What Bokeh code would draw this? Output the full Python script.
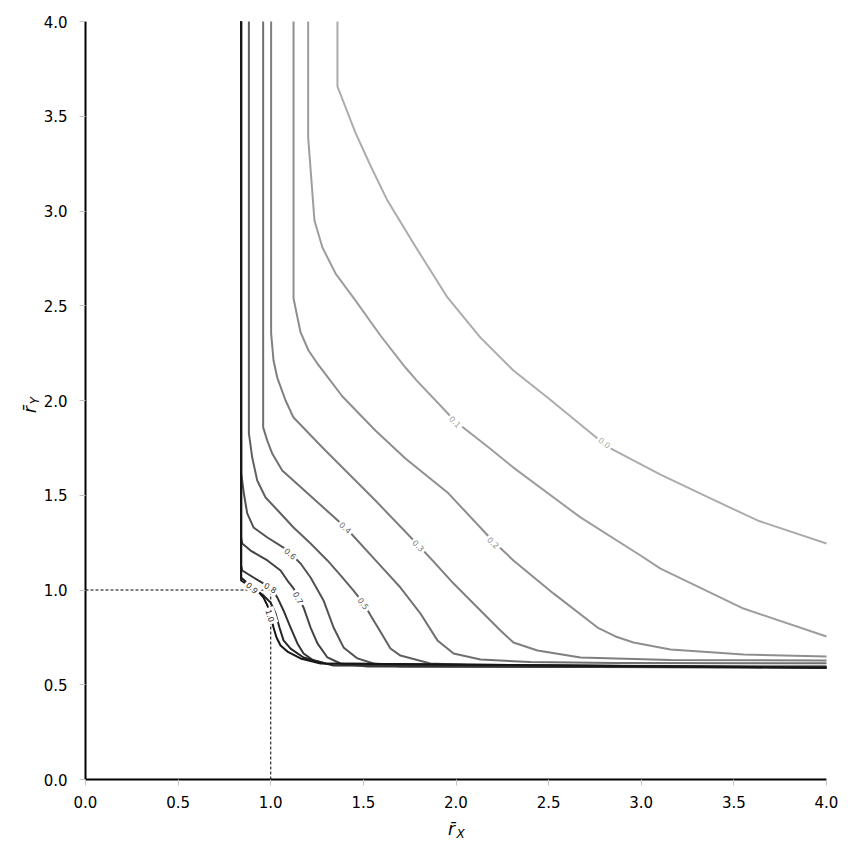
import math
from bokeh.plotting import figure
from bokeh.models import ColumnDataSource, Range1d, FixedTicker, PrintfTickFormatter, LinearAxis
from bokeh.core.properties import value
from bokeh.embed import file_html
from bokeh.resources import INLINE

# ---------------- data ----------------
levels = [0.0, 0.1, 0.2, 0.3, 0.4, 0.5, 0.6, 0.7, 0.8, 0.9, 1.0]
level_text = ["0.0", "0.1", "0.2", "0.3", "0.4", "0.5", "0.6", "0.7", "0.8", "0.9", "1.0"]

c00_x = [1.360, 1.360, 1.457, 1.538, 1.630, 1.771, 1.954, 2.132, 2.310, 2.494, 2.764, 2.834, 3.104, 3.374, 3.628, 4.0]
c00_y = [4.0, 3.657, 3.414, 3.240, 3.055, 2.828, 2.544, 2.332, 2.158, 2.016, 1.799, 1.747, 1.609, 1.483, 1.367, 1.245]

c01_x = [1.202, 1.202, 1.236, 1.279, 1.350, 1.457, 1.592, 1.727, 1.787, 1.997, 2.170, 2.310, 2.672, 2.996, 3.104, 3.552, 4.0]
c01_y = [4.0, 3.388, 2.950, 2.807, 2.670, 2.528, 2.343, 2.174, 2.106, 1.889, 1.757, 1.646, 1.383, 1.182, 1.113, 0.902, 0.755]

c02_x = [1.123, 1.123, 1.161, 1.204, 1.252, 1.387, 1.565, 1.727, 1.954, 2.202, 2.310, 2.526, 2.764, 2.861, 2.958, 3.158, 3.552, 4.0]
c02_y = [4.0, 2.538, 2.359, 2.264, 2.195, 2.021, 1.842, 1.694, 1.515, 1.256, 1.156, 0.982, 0.802, 0.755, 0.723, 0.686, 0.660, 0.649]

c03_x = [1.002, 1.002, 1.015, 1.035, 1.080, 1.123, 1.279, 1.565, 1.798, 1.873, 1.987, 2.132, 2.240, 2.310, 2.440, 2.672, 3.158, 4.0]
c03_y = [4.0, 2.354, 2.211, 2.121, 2.000, 1.910, 1.752, 1.472, 1.235, 1.156, 1.034, 0.892, 0.786, 0.723, 0.681, 0.644, 0.630, 0.628]

c04_x = [0.959, 0.959, 0.981, 1.008, 1.062, 1.242, 1.404, 1.592, 1.700, 1.808, 1.900, 1.987, 2.132, 2.402, 2.850, 4.0]
c04_y = [4.0, 1.858, 1.789, 1.720, 1.631, 1.472, 1.330, 1.129, 1.013, 0.876, 0.734, 0.665, 0.633, 0.620, 0.615, 0.613]

c05_x = [0.882, 0.882, 0.900, 0.927, 0.972, 1.053, 1.123, 1.215, 1.306, 1.377, 1.447, 1.501, 1.549, 1.598, 1.646, 1.700, 1.862, 2.132, 4.0]
c05_y = [4.0, 1.826, 1.699, 1.578, 1.488, 1.404, 1.330, 1.245, 1.156, 1.077, 0.997, 0.929, 0.850, 0.770, 0.691, 0.654, 0.612, 0.602, 0.597]

c06_x = [0.840, 0.840, 0.855, 0.873, 0.907, 0.982, 1.069, 1.107, 1.161, 1.215, 1.285, 1.339, 1.393, 1.468, 1.555, 1.700, 4.0]
c06_y = [4.0, 1.620, 1.509, 1.404, 1.330, 1.277, 1.224, 1.193, 1.140, 1.066, 0.945, 0.802, 0.697, 0.639, 0.612, 0.596, 0.592]

c07_x = [0.840, 0.840, 0.846, 0.891, 0.982, 1.053, 1.090, 1.123, 1.150, 1.177, 1.215, 1.252, 1.306, 1.377, 1.522, 4.0]
c07_y = [4.0, 1.277, 1.245, 1.208, 1.156, 1.103, 1.050, 1.008, 0.960, 0.908, 0.802, 0.718, 0.644, 0.612, 0.596, 0.591]

c08_x = [0.840, 0.840, 0.846, 0.907, 0.999, 1.036, 1.069, 1.107, 1.144, 1.177, 1.231, 1.339, 4.0]
c08_y = [4.0, 1.129, 1.103, 1.066, 1.013, 0.960, 0.892, 0.802, 0.718, 0.665, 0.628, 0.602, 0.591]

c09_x = [0.840, 0.840, 0.901, 0.955, 0.999, 1.026, 1.047, 1.069, 1.107, 1.177, 1.296, 4.0]
c09_y = [4.0, 1.066, 1.013, 0.976, 0.934, 0.876, 0.802, 0.734, 0.691, 0.644, 0.612, 0.591]

c10_x = [0.840, 0.840, 0.891, 0.928, 0.961, 0.982, 0.999, 1.015, 1.031, 1.053, 1.090, 1.161, 1.269, 4.0]
c10_y = [4.0, 1.050, 1.018, 0.997, 0.960, 0.918, 0.865, 0.802, 0.749, 0.707, 0.675, 0.639, 0.612, 0.590]

contour_x = [c00_x, c01_x, c02_x, c03_x, c04_x, c05_x, c06_x, c07_x, c08_x, c09_x, c10_x]
contour_y = [c00_y, c01_y, c02_y, c03_y, c04_y, c05_y, c06_y, c07_y, c08_y, c09_y, c10_y]

# inline contour-label positions
label_x = [2.802, 1.997, 2.202, 1.798, 1.404, 1.501, 1.107, 1.150, 0.999, 0.901, 0.999]
label_y = [1.778, 1.889, 1.251, 1.235, 1.330, 0.929, 1.193, 0.960, 1.013, 1.013, 0.865]

# dashed reference point
ref_x = 1.0
ref_y = 1.0

ticks = [0.0, 0.5, 1.0, 1.5, 2.0, 2.5, 3.0, 3.5, 4.0]
axis_lo, axis_hi = 0.0, 4.0
x_title_main, x_title_sub = "r\u0304", "X"
y_title_main, y_title_sub = "r\u0304", "Y"

# ---------------- layout / styling ----------------
CANVAS = 850                       # whole drawing area (page shows it at 0,0)
AX_L, AX_R, AX_T, AX_B = 85, 826, 21, 779   # pixel box of the 0..4 axes
FONT = "DejaVu Sans"

sx = (AX_R - AX_L) / (axis_hi - axis_lo)
sy = (AX_B - AX_T) / (axis_hi - axis_lo)


def to_x(px):
    return axis_lo + (px - AX_L) / sx


def to_y(py):
    return axis_lo + (AX_B - py) / sy


def gray(level):
    v = int(round(172 - 150 * level))
    return "#%02x%02x%02x" % (v, v, v)


p = figure(
    frame_width=CANVAS, frame_height=CANVAS,
    x_range=Range1d(to_x(0), to_x(CANVAS)), y_range=Range1d(to_y(CANVAS), to_y(0)),
    x_axis_location=None, y_axis_location=None,
    output_backend="svg", toolbar_location=None,
    min_border=0, background_fill_color="white", border_fill_color="white",
)
p.outline_line_color = None
p.grid.visible = False

xaxis = LinearAxis(fixed_location=axis_lo, bounds=(axis_lo, axis_hi))
yaxis = LinearAxis(fixed_location=axis_lo, bounds=(axis_lo, axis_hi))
for ax in (xaxis, yaxis):
    ax.ticker = FixedTicker(ticks=ticks)
    ax.formatter = PrintfTickFormatter(format="%.1f")
    ax.axis_line_color = "black"
    ax.axis_line_width = 2
    ax.major_tick_line_color = "#c4c4c4"
    ax.major_tick_line_width = 1
    ax.major_tick_out = 6
    ax.major_tick_in = 0
    ax.minor_tick_line_color = None
    ax.major_label_text_font = FONT
    ax.major_label_text_font_size = "15px"
    ax.major_label_text_color = "black"
xaxis.major_label_standoff = 10
yaxis.major_label_standoff = 12
p.add_layout(xaxis, "below")
p.add_layout(yaxis, "left")

# dashed reference lines
p.line([axis_lo, ref_x], [ref_y, ref_y], line_color="black", line_width=1, line_dash="3 2")
p.line([ref_x, ref_x], [axis_lo, ref_y], line_color="black", line_width=1, line_dash="3 2")

# contour lines
for lev, xs, ys in zip(levels, contour_x, contour_y):
    p.line(xs, ys, line_color=gray(lev), line_width=2, line_join="round")

# label angles from the local slope of each contour (in screen units)
angles = []
for xs, ys, lx, ly in zip(contour_x, contour_y, label_x, label_y):
    best = None
    for i in range(len(xs) - 1):
        ax_, ay_ = xs[i] * sx, ys[i] * sy
        bx_, by_ = xs[i + 1] * sx, ys[i + 1] * sy
        px_, py_ = lx * sx, ly * sy
        dx, dy = bx_ - ax_, by_ - ay_
        L2 = dx * dx + dy * dy
        if L2 == 0:
            continue
        t = max(0.0, min(1.0, ((px_ - ax_) * dx + (py_ - ay_) * dy) / L2))
        d = math.hypot(ax_ + t * dx - px_, ay_ + t * dy - py_)
        if best is None or d < best[0]:
            best = (d, dx, dy)
    a = math.atan2(best[2], best[1])
    if a > math.pi / 2:
        a -= math.pi
    if a < -math.pi / 2:
        a += math.pi
    angles.append(a)

lab_src = ColumnDataSource(dict(
    x=label_x, y=label_y, text=level_text, angle=angles,
    color=[gray(l) for l in levels],
))
p.text(x="x", y="y", text="text", angle="angle", source=lab_src,
       text_color="color", text_font=value(FONT), text_font_size="8px",
       text_align="center", text_baseline="middle",
       background_fill_color="white", padding=2)

# axis titles: r-bar with a subscript
title_src = ColumnDataSource(dict(
    x=[to_x(451), to_x(29)],
    y=[to_y(828), to_y(409)],
    text=[x_title_main, y_title_main],
    angle=[0.0, math.pi / 2],
))
p.text(x="x", y="y", text="text", angle="angle", source=title_src,
       text_color="black", text_font=value(FONT), text_font_style="italic",
       text_font_size="17px", text_align="center", text_baseline="middle")
sub_src = ColumnDataSource(dict(
    x=[to_x(460), to_x(34)],
    y=[to_y(833), to_y(400)],
    text=[x_title_sub, y_title_sub],
    angle=[0.0, math.pi / 2],
))
p.text(x="x", y="y", text="text", angle="angle", source=sub_src,
       text_color="black", text_font=value(FONT), text_font_style="italic",
       text_font_size="12px", text_align="center", text_baseline="middle")

open("out.html", "w").write(file_html(p, INLINE))
